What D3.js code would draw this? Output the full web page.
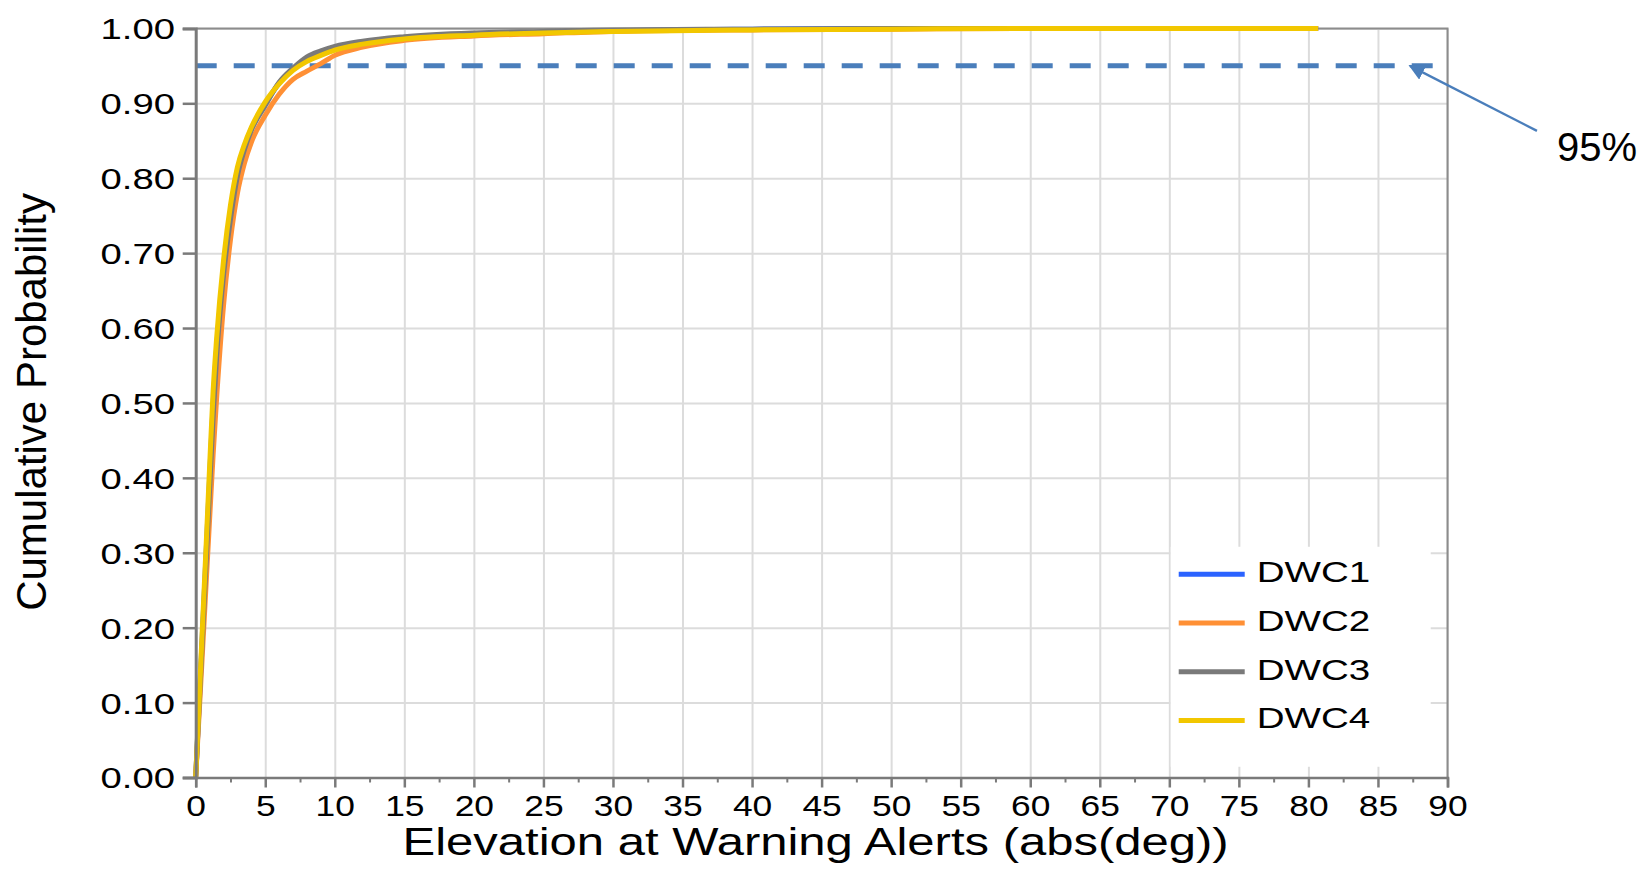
<!DOCTYPE html>
<html>
<head>
<meta charset="utf-8">
<script src="https://d3js.org/d3.v7.min.js"></script>
<style>
  body { margin: 0; background: #fff; }
  svg text { font-family: "Liberation Sans", Arial, Helvetica, sans-serif; fill: #000; }
  .grid line { stroke: #dcdcdc; stroke-width: 2; }
  .grid path { display: none; }
</style>
</head>
<body>
<svg id="chart" width="1651" height="872"></svg>
<script>
// Elevation grid (deg) shared by all series
const elevation = [0, 0.25, 0.5, 0.75, 1, 1.25, 1.5, 2, 2.5, 3, 3.5, 4, 5, 6, 7, 8, 9, 10, 12, 15, 20, 25, 30, 40, 50, 60, 70, 80.7];

// cumulative probability
const dwc1 = [0, 0.1, 0.2, 0.3, 0.4, 0.498, 0.572, 0.677, 0.754, 0.809, 0.841, 0.866, 0.899, 0.927, 0.945, 0.959, 0.967, 0.973, 0.981, 0.987, 0.992, 0.995, 0.997, 0.999, 1, 1, 1, 1];
const dwc2 = [0, 0.086, 0.172, 0.259, 0.345, 0.43, 0.505, 0.63, 0.718, 0.78, 0.82, 0.848, 0.884, 0.912, 0.932, 0.943, 0.953, 0.964, 0.975, 0.984, 0.99, 0.993, 0.996, 0.998, 0.999, 1, 1, 1];
const dwc3 = [0, 0.096, 0.192, 0.288, 0.385, 0.48, 0.56, 0.67, 0.745, 0.803, 0.838, 0.864, 0.897, 0.928, 0.947, 0.962, 0.97, 0.976, 0.983, 0.989, 0.994, 0.996, 0.998, 0.999, 1, 1, 1, 1];
const dwc4 = [0, 0.104, 0.208, 0.31, 0.415, 0.515, 0.585, 0.69, 0.764, 0.815, 0.845, 0.868, 0.902, 0.926, 0.944, 0.956, 0.964, 0.971, 0.979, 0.986, 0.991, 0.994, 0.996, 0.998, 0.999, 1, 1, 1];

const seriesNames = ["DWC1", "DWC2", "DWC3", "DWC4"];
const seriesColors = ["#2b63ff", "#ff9035", "#7a7a7a", "#f2c700"];

const xTickValues = [0, 5, 10, 15, 20, 25, 30, 35, 40, 45, 50, 55, 60, 65, 70, 75, 80, 85, 90];
const xMinorTicks = [2.5, 7.5, 12.5, 17.5, 22.5, 27.5, 32.5, 37.5, 42.5, 47.5, 52.5, 57.5, 62.5, 67.5, 72.5, 77.5, 82.5, 87.5];
const yTickValues = [0, 0.1, 0.2, 0.3, 0.4, 0.5, 0.6, 0.7, 0.8, 0.9, 1.0];
const threshold = 0.95;

const svg = d3.select("#chart");
const margin = { top: 28.4, right: 203.5, bottom: 94.5, left: 195.7 };
const width = 1651 - margin.left - margin.right;
const height = 872 - margin.top - margin.bottom;

const x = d3.scaleLinear().domain([0, 90]).range([0, width]);
const y = d3.scaleLinear().domain([0, 1]).range([height, 0]);

const g = svg.append("g").attr("transform", `translate(${margin.left},${margin.top})`);

// gridlines
g.append("g").attr("class", "grid")
  .call(d3.axisBottom(x).tickValues(xTickValues).tickSize(height).tickFormat(""));
g.append("g").attr("class", "grid")
  .call(d3.axisLeft(y).tickValues(yTickValues).tickSize(-width).tickFormat(""));

// threshold line (behind the curves)
g.append("line")
  .attr("x1", x(0)).attr("x2", x(89))
  .attr("y1", y(threshold)).attr("y2", y(threshold))
  .attr("stroke", "#4a7ebb").attr("stroke-width", 5)
  .attr("stroke-dasharray", "21,17");

// legend box sits over the grid
const legend = g.append("g").attr("transform", `translate(${x(70.1)},${y(0.308)})`);
legend.append("rect").attr("width", 260).attr("height", 220).attr("fill", "#fff");

// frame (top, right)
g.append("path")
  .attr("d", `M0,0H${width}V${height}`)
  .attr("fill", "none").attr("stroke", "#8c8c8c").attr("stroke-width", 2);

// curves
const line = d3.line()
  .x((d) => x(d[0]))
  .y((d) => y(d[1]))
  .curve(d3.curveMonotoneX);

const series = [dwc1, dwc2, dwc3, dwc4];
series.forEach((vals, i) => {
  g.append("path")
    .datum(elevation.map((e, j) => [e, vals[j]]))
    .attr("fill", "none")
    .attr("stroke", seriesColors[i])
    .attr("stroke-width", 5)
    .attr("stroke-linejoin", "round")
    .attr("d", line);
});

// axes
const yAxis = g.append("g")
  .call(d3.axisLeft(y).tickValues(yTickValues).tickSize(13).tickPadding(0).tickFormat(d3.format(".2f")));
yAxis.select(".domain").attr("stroke", "#7a7a7a").attr("stroke-width", 3);
yAxis.selectAll(".tick line").attr("stroke", "#7a7a7a").attr("stroke-width", 2.5);
yAxis.selectAll(".tick text")
  .attr("font-size", 29).attr("font-family", null)
  .attr("x", -20.7 / 1.32).attr("dy", "0.36em")
  .attr("transform", "scale(1.32,1)");

const xAxis = g.append("g").attr("transform", `translate(0,${height})`)
  .call(d3.axisBottom(x).tickValues(xTickValues).tickSize(10).tickFormat(d3.format("d")));
xAxis.select(".domain").attr("stroke", "#7a7a7a").attr("stroke-width", 2.5);
xAxis.selectAll(".tick line").attr("stroke", "#7a7a7a").attr("stroke-width", 2.5);
xAxis.selectAll(".tick text")
  .attr("font-size", 29).attr("font-family", null)
  .attr("y", 39).attr("dy", 0)
  .attr("transform", "scale(1.22,1)");

const xMinor = g.append("g").attr("transform", `translate(0,${height})`)
  .call(d3.axisBottom(x).tickValues(xMinorTicks).tickSize(5).tickFormat(""));
xMinor.select(".domain").remove();
xMinor.selectAll(".tick line").attr("stroke", "#7a7a7a").attr("stroke-width", 2);

// axis titles
svg.append("text")
  .attr("transform", `translate(${margin.left + width / 2 - 6},855) scale(1.29,1)`)
  .attr("text-anchor", "middle")
  .attr("font-size", 38)
  .text("Elevation at Warning Alerts (abs(deg))");

svg.append("text")
  .attr("transform", `translate(45.5,${margin.top + height / 2 - 1}) rotate(-90)`)
  .attr("text-anchor", "middle")
  .attr("font-size", 42)
  .text("Cumulative Probability");

// legend entries
seriesNames.forEach((name, i) => {
  const row = legend.append("g").attr("transform", `translate(0,${27.5 + i * 48.7})`);
  row.append("line")
    .attr("x1", 8).attr("x2", 74)
    .attr("stroke", seriesColors[i]).attr("stroke-width", 5);
  row.append("text")
    .attr("transform", "translate(86,8) scale(1.33,1)")
    .attr("font-size", 29)
    .text(name);
});

// 95% annotation
const defs = svg.append("defs");
defs.append("marker")
  .attr("id", "arrowhead")
  .attr("viewBox", "0 0 10 10")
  .attr("refX", 9).attr("refY", 5)
  .attr("markerWidth", 7).attr("markerHeight", 7)
  .attr("markerUnits", "strokeWidth")
  .attr("orient", "auto")
  .append("path").attr("d", "M0,0L10,5L0,10z").attr("fill", "#4a7ebb");

const tipX = margin.left + x(87.3);
const tipY = margin.top + y(threshold);
svg.append("line")
  .attr("x1", tipX + 127).attr("y1", tipY + 65)
  .attr("x2", tipX).attr("y2", tipY)
  .attr("stroke", "#4a7ebb").attr("stroke-width", 2.3)
  .attr("marker-end", "url(#arrowhead)");

svg.append("text")
  .attr("x", tipX + 147).attr("y", tipY + 95)
  .attr("font-family", "'Open Sans', sans-serif")
  .attr("font-size", 40)
  .text("95%");
</script>
</body>
</html>
